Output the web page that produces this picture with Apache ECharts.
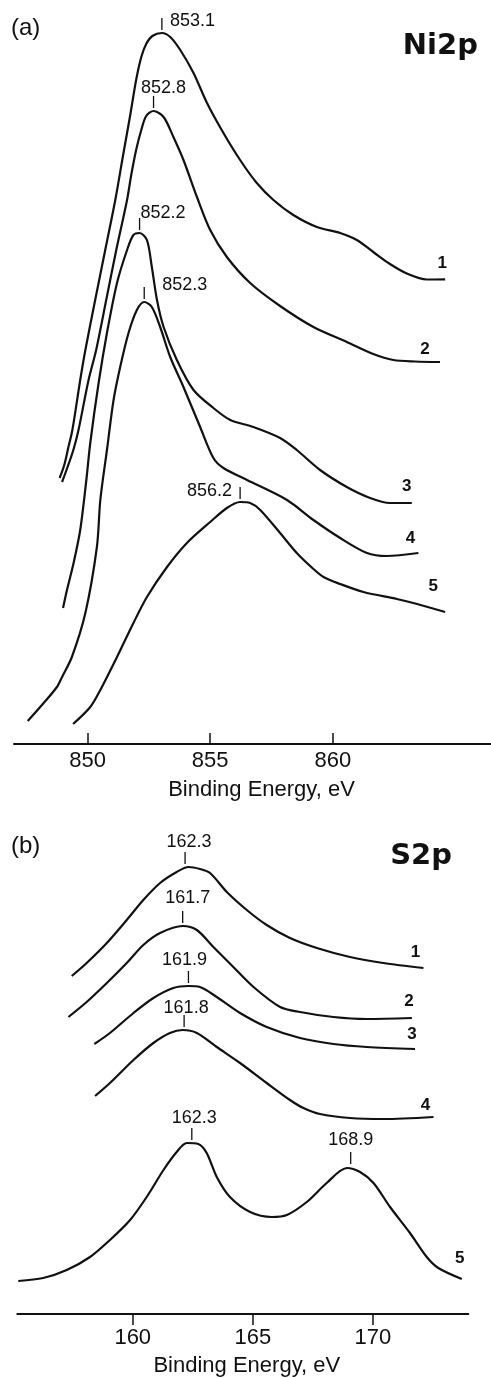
<!DOCTYPE html>
<html>
<head>
<meta charset="utf-8">
<script src="https://cdn.jsdelivr.net/npm/echarts@6/dist/echarts.min.js"></script>
<style>
  html, body { margin: 0; padding: 0; background: #fff; }
  #chart { width: 491px; height: 1378px; }
</style>
</head>
<body>
<div id="chart"></div>
<script>
// (a) Ni2p spectra: [binding energy eV, intensity a.u.]
const niCurve1 = [[848.86,266],[849.05,279],[849.21,296],[849.38,314],[849.70,364],[849.91,394],[850.31,444],[850.72,494],[851.13,544],[851.45,589],[851.74,629],[851.98,664],[852.19,687],[852.39,700],[852.64,708],[853.03,711],[853.37,707],[853.78,694],[854.32,671],[854.87,641],[855.54,611],[856.22,584],[856.90,561],[857.58,544],[858.39,529],[859.35,517],[860.30,511],[860.98,504],[861.65,492],[862.33,480],[863.02,470.5],[863.83,464.5],[864.58,464.7]];
const niCurve2 = [[848.96,262],[849.17,276],[849.42,294],[849.63,314],[850.04,364],[850.35,394],[850.76,444],[851.17,494],[851.61,544],[851.78,569],[851.98,594],[852.19,614],[852.39,628],[852.69,633],[853.10,627],[853.50,607],[853.91,584],[854.46,547],[855.00,514],[855.68,487],[856.63,461],[857.85,438],[859.21,417],[860.57,402],[861.65,390],[862.47,384],[863.35,382.5],[864.37,382]];
const niCurve3 = [[849.00,136],[849.16,154],[849.43,181],[849.70,214],[849.95,264],[850.11,301],[850.45,361],[850.79,411],[851.20,461],[851.61,494],[851.87,509],[852.12,511],[852.42,504],[852.62,477],[852.83,444],[853.10,417],[853.64,384],[854.32,354],[855.13,336],[855.82,324],[856.76,317],[857.85,306],[858.53,294],[859.48,274],[860.57,257],[861.52,246],[862.33,241],[863.22,241]];
const niCurve4 = [[847.56,23],[848.21,41],[848.75,57],[848.96,67],[849.36,87],[849.91,131],[850.38,197],[850.52,244],[850.79,294],[851.06,344],[851.33,377],[851.67,411],[852.01,434],[852.31,442],[852.62,437],[852.96,417],[853.37,387],[853.91,357],[854.59,317],[855.13,286],[855.54,276],[856.50,264],[858.13,244],[859.21,224],[860.30,206],[861.39,191],[862.20,188],[863.49,191]];
const niCurve5 = [[849.41,20],[850.11,37],[850.52,54],[851.20,87],[851.87,121],[852.42,147],[853.24,177],[854.05,201],[855.00,222],[855.68,236],[856.22,242],[856.63,241],[857.04,234],[857.85,211],[858.53,191],[859.21,175],[859.62,167],[860.30,160],[861.25,152],[862.61,145],[863.28,141],[864.58,132]];
const niPeaks = [[853.03,711],[852.69,633],[852.12,511],[852.31,442],[856.22,242]];
const niPeakText = ['853.1','852.8','852.2','852.3','856.2'];
const niTicks = [850, 855, 860];

// (b) S2p spectra
const sCurve1 = [[157.46,338],[158.08,351],[158.92,371],[159.75,394],[160.44,414],[161.14,431],[161.83,442],[162.32,447],[162.80,445],[163.22,441],[163.92,422],[164.75,404],[165.58,389],[166.55,376],[167.67,366],[169.05,357],[170.44,351],[172.11,346]];
const sCurve2 = [[157.32,297],[158.08,312],[158.92,331],[159.75,351],[160.44,369],[161.14,381],[162.08,388],[162.67,384],[163.36,367],[164.19,347],[165.03,327],[166.14,307],[166.97,302],[168.36,297],[169.75,295],[171.63,296]];
const sCurve3 = [[158.40,270],[159.05,281],[160.03,301],[160.86,316],[161.69,326],[162.32,328],[162.80,327],[163.50,317],[164.47,301],[165.58,287],[166.97,276],[168.36,270],[169.75,267],[171.76,265]];
const sCurve4 = [[158.43,218],[159.05,231],[160.03,254],[160.86,271],[161.55,281],[162.08,284],[162.67,281],[163.50,267],[164.47,251],[165.58,231],[166.55,214],[167.11,206],[167.80,200],[169.05,196],[170.44,195],[172.53,197]];
const sCurve5 = [[155.23,33],[156.27,36],[157.25,44],[158.22,57],[159.05,74],[159.89,94],[160.58,117],[161.28,144],[161.83,162],[162.25,171],[162.73,170],[163.08,161],[163.50,137],[164.05,117],[164.89,102],[165.79,97],[166.42,99],[167.25,112],[168.08,131],[168.92,146],[169.47,142],[170.03,131],[170.72,107],[171.55,81],[172.25,57],[172.73,46],[173.71,35]];
const sPeaks = [[162.18,447],[162.08,388],[162.32,328],[162.14,284],[162.46,171],[169.08,147]];
const sPeakText = ['162.3','161.7','161.9','161.8','162.3','168.9'];
const sTicks = [160, 165, 170];

const curveNames = ['1', '2', '3', '4', '5'];

const FONT = '"Liberation Sans", Arial, sans-serif';
const INK = '#111';

// label placement (px, relative to the peak point / curve end)
const niPeakPos = [[8, -12, 'left'], [10, -23, 'center'], [1, -20, 'left'], [18, -17, 'left'], [-8, -11, 'right']];
const sPeakPos = [[4, -25, 'center'], [5, -28, 'center'], [-4, -26, 'center'], [2, -22, 'center'], [2.5, -25, 'center'], [0, -27, 'center']];
const niNamePos = [[-3, -16], [-15, -13], [-5, -17], [-8, -15], [-12, -26]];
const sNamePos = [[-8, -16], [-3, -17], [-3, -15], [-8, -12], [-2, -21]];

function peakSeries(gi, data, texts, pos) {
    return {
        type: 'custom', xAxisIndex: gi, yAxisIndex: gi, data: data, silent: true,
        renderItem: function (params, api) {
            const p = api.coord([api.value(0), api.value(1)]);
            const o = pos[params.dataIndex];
            return {
                type: 'group',
                children: [
                    { type: 'line', shape: { x1: p[0], y1: p[1] - 3, x2: p[0], y2: p[1] - 15 },
                      style: { stroke: INK, lineWidth: 1.3 } },
                    { type: 'text', x: p[0] + o[0], y: p[1] + o[1],
                      style: { text: texts[params.dataIndex], font: '18px ' + FONT, fill: INK,
                               align: o[2], verticalAlign: 'middle' } }
                ]
            };
        }
    };
}

function nameSeries(gi, curves, pos) {
    return {
        type: 'custom', xAxisIndex: gi, yAxisIndex: gi, silent: true,
        data: curves.map(c => c[c.length - 1]),
        renderItem: function (params, api) {
            const p = api.coord([api.value(0), api.value(1)]);
            const o = pos[params.dataIndex];
            return {
                type: 'text', x: p[0] + o[0], y: p[1] + o[1],
                style: { text: curveNames[params.dataIndex], font: 'bold 17px ' + FONT, fill: INK,
                         align: 'center', verticalAlign: 'middle' }
            };
        }
    };
}

function lineSeries(gi, data) {
    return {
        type: 'line', xAxisIndex: gi, yAxisIndex: gi, data: data,
        showSymbol: false, smooth: 0.3,
        lineStyle: { color: INK, width: 2.2 }, silent: true
    };
}

function xAxis(gi, min, max, ticks, inside, labelMargin, nameGap, namePad) {
    return {
        gridIndex: gi, type: 'value', min: min, max: max,
        axisLine: { lineStyle: { color: INK, width: 2 } },
        axisTick: { inside: inside, length: 11, customValues: ticks, lineStyle: { color: INK, width: 1.5 } },
        axisLabel: { customValues: ticks, margin: labelMargin, fontSize: 22, fontFamily: FONT, color: INK },
        splitLine: { show: false },
        name: 'Binding Energy, eV', nameLocation: 'middle', nameGap: nameGap,
        nameTextStyle: { fontSize: 22, fontFamily: FONT, color: INK, padding: [0, 0, 0, namePad] }
    };
}

const niCurves = [niCurve1, niCurve2, niCurve3, niCurve4, niCurve5];
const sCurves = [sCurve1, sCurve2, sCurve3, sCurve4, sCurve5];

const chart = echarts.init(document.getElementById('chart'), null, { renderer: 'canvas' });
chart.setOption({
    animation: false,
    backgroundColor: '#fff',
    grid: [
        { left: 14, right: 0, top: 0, bottom: 634 },
        { left: 17.3, right: 22.7, top: 814, bottom: 64 }
    ],
    xAxis: [
        xAxis(0, 847.0, 866.45, niTicks, true, 6, 35, 18),
        xAxis(1, 155.19, 173.98, sTicks, false, 13, 41, 8)
    ],
    yAxis: [
        { gridIndex: 0, type: 'value', min: 0, max: 744, show: false },
        { gridIndex: 1, type: 'value', min: 0, max: 500, show: false }
    ],
    graphic: [
        { type: 'text', left: 11, top: 16, style: { text: '(a)', font: '24px ' + FONT, fill: INK } },
        { type: 'text', right: 13, top: 32, style: { text: 'Ni2p', font: 'bold 29px "DejaVu Sans"', fill: INK } },
        { type: 'text', left: 11, top: 834, style: { text: '(b)', font: '24px ' + FONT, fill: INK } },
        { type: 'text', right: 39, top: 842, style: { text: 'S2p', font: 'bold 29px "DejaVu Sans"', fill: INK } }
    ],
    series: [
        ...niCurves.map(c => lineSeries(0, c)),
        ...sCurves.map(c => lineSeries(1, c)),
        peakSeries(0, niPeaks, niPeakText, niPeakPos),
        peakSeries(1, sPeaks, sPeakText, sPeakPos),
        nameSeries(0, niCurves, niNamePos),
        nameSeries(1, sCurves, sNamePos)
    ]
});
</script>
</body>
</html>
